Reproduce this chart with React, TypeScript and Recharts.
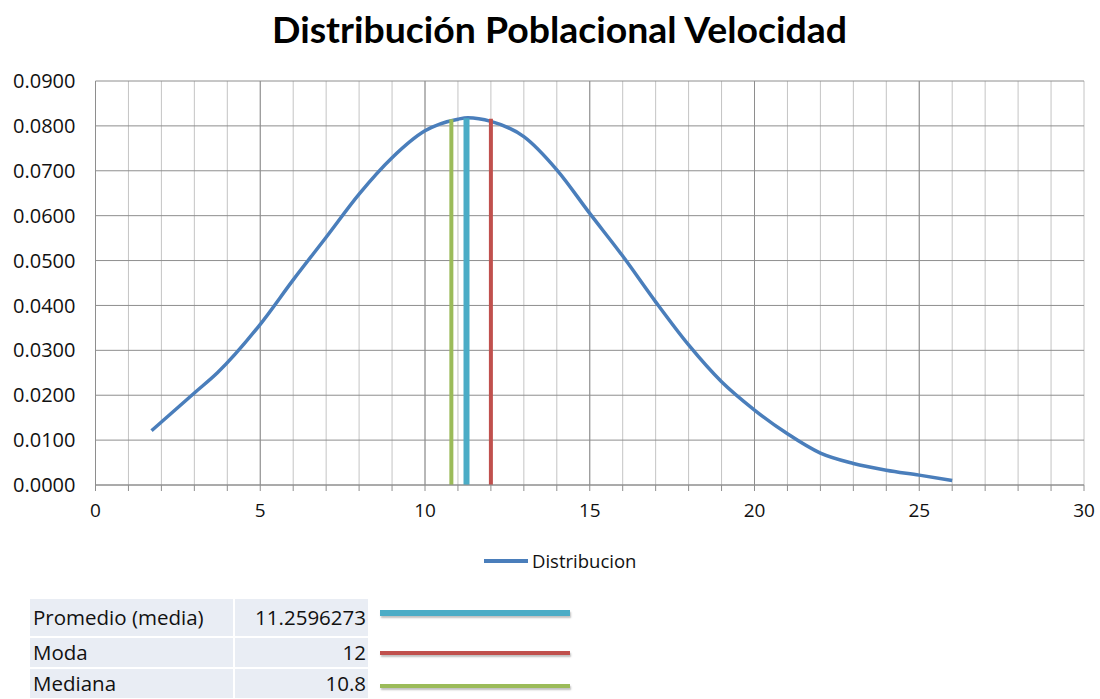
import React from 'react';
import { LineChart, Line, XAxis, YAxis, CartesianGrid, ReferenceLine } from 'recharts';

// speed values (x) and population density (y)
const speeds = [1.7, 3, 3.7, 5, 6, 7, 8, 9, 10, 11, 11.3, 12, 13, 14, 15, 16, 17, 18, 19, 20, 21, 22, 23, 24, 25, 26];
const density = [
    0.0121, 0.0205, 0.025, 0.0358, 0.0457, 0.0552, 0.0648, 0.0729, 0.0789, 0.0815, 0.0818, 0.081,
    0.0776, 0.0702, 0.0605, 0.051, 0.0408, 0.0312, 0.023, 0.0167, 0.0114, 0.0071, 0.0048, 0.0033,
    0.0022, 0.001,
];

const xTicks = [0, 1, 2, 3, 4, 5, 6, 7, 8, 9, 10, 11, 12, 13, 14, 15, 16, 17, 18, 19, 20, 21, 22, 23, 24, 25, 26, 27, 28, 29, 30];
const xMajor = [5, 10, 15, 20, 25];
const yTicks = [0, 0.01, 0.02, 0.03, 0.04, 0.05, 0.06, 0.07, 0.08, 0.09];

const statLabels = ['Promedio (media)', 'Moda', 'Mediana'];
const statValues = [11.2596273, 12, 10.8];
const statTops = [0.0817, 0.0816, 0.0815];
const statColors = ['#4BACC6', '#C0504D', '#9BBB59'];
const statWidths = [6, 4, 4];

const data = speeds.map((x, i) => ({ x, y: density[i] }));

const font = '"Open Sans", sans-serif';
const rowTops = [599, 638, 669];
const rowHeights = [37, 29, 29];
const swatchY = [613, 653, 686];

const App: React.FC = () => {
    // draw order in the chart: median, mean, mode
    const drawOrder = [2, 0, 1];

    return (
        <div style={{ position: 'absolute', left: 0, top: 0, width: 1100, height: 699, background: '#fff', overflow: 'hidden' }}>
            <svg width={1100} height={60} style={{ position: 'absolute', left: 0, top: 0 }}>
                <text
                    x={559.5}
                    y={43}
                    textAnchor="middle"
                    textLength={575}
                    lengthAdjust="spacingAndGlyphs"
                    style={{ fontFamily: 'Lato, sans-serif', fontWeight: 700, fontSize: 36, fill: '#000' }}
                >
                    Distribución Poblacional Velocidad
                </text>
            </svg>

            <div style={{ position: 'absolute', left: 0, top: 0 }}>
                <LineChart width={1100} height={600} data={data} margin={{ top: 81, right: 16, left: 0, bottom: 75 }}>
                    <CartesianGrid stroke="#C4C4C4" vertical={true} horizontal={false} />
                    <CartesianGrid stroke="#8E8E8E" vertical={false} horizontal={true} />
                    {xMajor.map((v) => (
                        <ReferenceLine key={v} x={v} stroke="#8E8E8E" strokeWidth={1} />
                    ))}
                    <XAxis
                        type="number"
                        dataKey="x"
                        domain={[0, 30]}
                        ticks={xTicks}
                        interval={0}
                        height={40}
                        allowDataOverflow
                        tickFormatter={(v: number) => (v % 5 === 0 ? String(v) : '')}
                        stroke="#8E8E8E"
                        tickSize={6}
                        tickMargin={13}
                        tick={{ fill: '#111', fontSize: 19, fontFamily: font }}
                    />
                    <YAxis
                        type="number"
                        domain={[0, 0.09]}
                        ticks={yTicks}
                        width={95.5}
                        tickFormatter={(v: number) => v.toFixed(4)}
                        stroke="#8E8E8E"
                        tickLine={false}
                        tickSize={8}
                        tickMargin={12}
                        tick={{ fill: '#111', fontSize: 20, fontFamily: font }}
                    />
                    <Line
                        type="monotone"
                        dataKey="y"
                        stroke="#4A7EBB"
                        strokeWidth={3.5}
                        dot={false}
                        isAnimationActive={false}
                    />
                    {drawOrder.map((i) => (
                        <ReferenceLine
                            key={statLabels[i]}
                            segment={[
                                { x: statValues[i], y: 0 },
                                { x: statValues[i], y: statTops[i] },
                            ]}
                            stroke={statColors[i]}
                            strokeWidth={statWidths[i]}
                        />
                    ))}
                </LineChart>
            </div>

            {/* legend */}
            <div style={{ position: 'absolute', left: 484, top: 548, display: 'flex', alignItems: 'center', fontFamily: font, fontSize: 18.5, color: '#111' }}>
                <span style={{ display: 'inline-block', width: 44, height: 4, background: '#4A7EBB', marginRight: 4 }} />
                <span>Distribucion</span>
            </div>

            {/* stats table */}
            {statLabels.map((label, i) => (
                <React.Fragment key={label}>
                    <div
                        style={{
                            position: 'absolute', left: 30, top: rowTops[i], width: 203, height: rowHeights[i],
                            background: '#E9EDF4', fontFamily: font, fontSize: 20.5, lineHeight: 1, color: '#111',
                            display: 'flex', alignItems: 'center', paddingLeft: 3, boxSizing: 'border-box',
                        }}
                    >
                        {label}
                    </div>
                    <div
                        style={{
                            position: 'absolute', left: 235, top: rowTops[i], width: 133, height: rowHeights[i],
                            background: '#E9EDF4', fontFamily: font, fontSize: 20.5, lineHeight: 1, color: '#111',
                            display: 'flex', alignItems: 'center', justifyContent: 'flex-end', paddingRight: 2, boxSizing: 'border-box',
                        }}
                    >
                        {statValues[i]}
                    </div>
                    <div
                        style={{
                            position: 'absolute', left: 380, top: swatchY[i] - statWidths[i] / 2, width: 190, height: statWidths[i],
                            background: statColors[i], boxShadow: '1px 2px 2px rgba(0,0,0,0.25)',
                        }}
                    />
                </React.Fragment>
            ))}
        </div>
    );
};

export default App;
